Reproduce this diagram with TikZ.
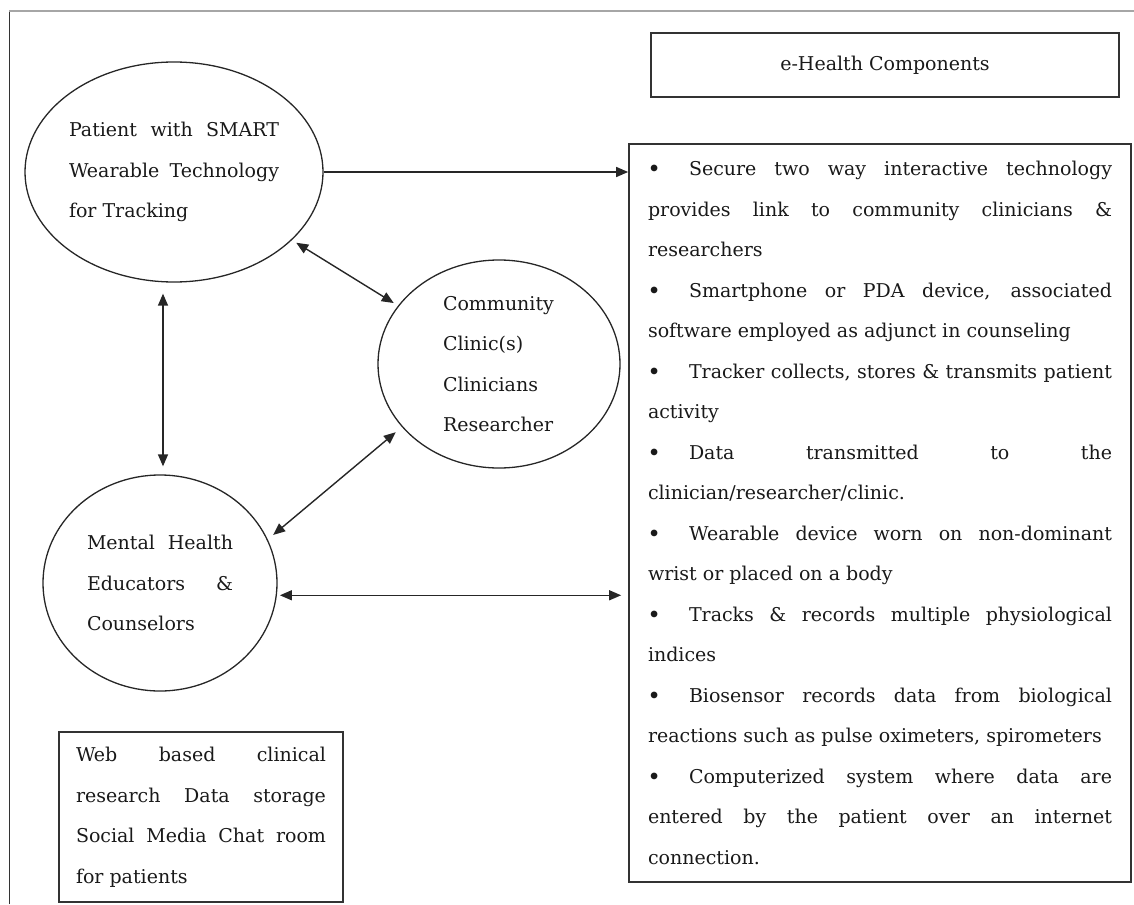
\documentclass[tikz,border=0pt]{standalone}
\usepackage{fontspec}
\setmainfont{DejaVu Serif}
\usetikzlibrary{arrows.meta,shapes.geometric}

\tolerance=10000
\hbadness=10000
\newcommand{\ebullet}{\makebox[41pt][l]{\textbf{\textbullet}}}

\begin{document}
\begin{tikzpicture}[x=1pt,y=-1pt,
    txt/.style={font=\fontsize{19}{40.5}\selectfont, text=black!90},
    bubble/.style={ellipse, draw=black!85, line width=1.3pt, inner sep=0pt, txt},
    panel/.style={rectangle, draw=black!80, line width=1.7pt, inner sep=0pt, txt},
    link/.style={draw=black!85, line width=1.4pt, >={Triangle[length=12pt,width=10pt]}, ->},
    dbl/.style={link, <->}
]
\useasboundingbox (0,0) rectangle (1134,904);

% Frame
\draw[black!80, line width=1pt] (9,904) -- (9,11);
\draw[gray!70, line width=1.5pt] (9,11) -- (1134,11);

% Title
\node[panel, minimum width=468pt, minimum height=64pt] (title) at (885,65) {e-Health Components};

% Actors
\node[bubble, minimum width=298pt, minimum height=220pt, text width=210pt, align=justify] (patient) at (174,172)
    {Patient with SMART\linebreak Wearable Technology\linebreak for Tracking};
\node[bubble, minimum width=242pt, minimum height=208pt, text width=112pt, align=left] (clinic) at (499,364)
    {Community\\ Clinic(s)\\ Clinicians\\ Researcher};
\node[bubble, minimum width=234pt, minimum height=216pt, text width=146pt, align=justify] (mental) at (160,583)
    {Mental Health\linebreak Educators \&\linebreak Counselors};

% Components list
\node[panel, minimum width=502pt, minimum height=738pt, text width=464pt, align=justify] (tasks) at (880,513) {%
\ebullet Secure two way interactive technology\linebreak provides link to community clinicians \&\linebreak researchers\par
\ebullet Smartphone or PDA device, associated\linebreak software employed as adjunct in counseling\par
\ebullet Tracker collects, stores \& transmits patient\linebreak activity\par
\ebullet Data transmitted to the\linebreak clinician/researcher/clinic.\par
\ebullet Wearable device worn on non-dominant\linebreak wrist or placed on a body\par
\ebullet Tracks \& records multiple physiological\linebreak indices\par
\ebullet Biosensor records data from biological\linebreak reactions such as pulse oximeters, spirometers\par
\ebullet Computerized system where data are\linebreak entered by the patient over an internet\linebreak connection.};

% Web box
\node[panel, minimum width=284pt, minimum height=170pt, text width=250pt, align=justify] (web) at (201,817)
    {Web based clinical\linebreak research Data storage\linebreak Social Media Chat room\linebreak for patients};

% Links
\draw[link] (patient.east) -- (patient.east -| tasks.west);
\draw[dbl] ([xshift=-11pt,yshift=-11pt]patient.south) -- ([xshift=3pt,yshift=8pt]mental.north);
\draw[dbl, shorten <=5pt, shorten >=5pt] (patient.-30) -- (clinic.150);
\draw[dbl, shorten <=8pt, shorten >=7pt] (clinic.213) -- (mental.22);
\draw[dbl, shorten <=3pt, shorten >=7pt] (mental.-6) -- (mental.-6 -| tasks.west);

\end{tikzpicture}
\end{document}
